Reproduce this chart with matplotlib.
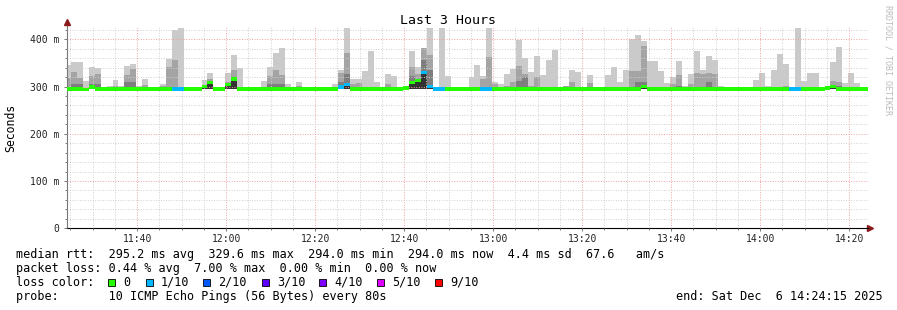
import numpy as np
import matplotlib
matplotlib.use('Agg')
import matplotlib.pyplot as plt
from matplotlib.ticker import MultipleLocator, FuncFormatter
from matplotlib.patches import Rectangle

plt.rcParams['font.family'] = 'DejaVu Sans Mono'

# rrd step is 80 s, first bin starts 11:23:49 (minutes after 11:00)
step_min = 80 / 60
first_bin = 23 + 49 / 60
t_start, t_end = 24.25, 204.25   # 11:24:15 .. 14:24:15

# smoke: highest three pings of 10 per bin (ms)
ping10 = [345, 351, 352, 311, 341, 340, 295, 302, 313, 302,
          343, 347, 302, 315, 295, 295, 305, 358, 419, 423,
          295, 295, 295, 313, 328, 295, 295, 328, 366, 340,
          295, 295, 295, 311, 341, 371, 381, 305, 298, 309,
          295, 295, 295, 295, 295, 306, 336, 423, 317, 315,
          332, 375, 309, 300, 326, 322, 295, 300, 375, 341,
          381, 423, 295, 423, 322, 295, 295, 295, 320, 345,
          322, 423, 309, 305, 326, 338, 398, 360, 330, 364,
          324, 356, 377, 300, 302, 334, 330, 300, 324, 295,
          298, 324, 341, 309, 336, 400, 410, 396, 353, 353,
          332, 307, 320, 353, 302, 326, 375, 336, 364, 356,
          302, 295, 295, 295, 295, 295, 313, 328, 302, 336,
          368, 347, 295, 423, 311, 328, 328, 295, 295, 351,
          383, 307, 328, 307, 295, 295]
ping9 = [318, 330, 318, 295, 322, 326, 295, 295, 302, 295,
         324, 338, 295, 303, 295, 295, 302, 341, 356, 300,
         295, 295, 295, 304, 317, 295, 295, 310, 336, 295,
         295, 295, 295, 295, 322, 334, 324, 298, 295, 302,
         295, 295, 295, 295, 295, 295, 329, 371, 306, 307,
         295, 295, 300, 295, 306, 295, 295, 295, 341, 326,
         381, 366, 295, 295, 295, 295, 295, 295, 295, 295,
         315, 362, 305, 295, 302, 309, 343, 326, 302, 320,
         295, 295, 295, 298, 302, 309, 295, 300, 307, 295,
         295, 295, 295, 295, 300, 332, 333, 385, 295, 295,
         295, 295, 306, 324, 295, 305, 328, 326, 328, 326,
         295, 295, 295, 295, 295, 295, 295, 295, 295, 295,
         295, 302, 295, 295, 295, 295, 295, 295, 295, 311,
         309, 295, 295, 295, 295, 295]
ping8 = [300, 306, 305, 295, 306, 306, 295, 295, 295, 295,
         310, 310, 295, 295, 295, 295, 295, 295, 295, 295,
         295, 295, 295, 295, 295, 295, 295, 302, 317, 295,
         295, 295, 295, 295, 306, 306, 306, 295, 295, 295,
         295, 295, 295, 295, 295, 295, 310, 326, 295, 295,
         295, 295, 295, 295, 295, 295, 295, 295, 322, 295,
         356, 334, 295, 295, 295, 295, 295, 295, 295, 295,
         295, 295, 295, 295, 295, 295, 311, 320, 295, 295,
         295, 295, 295, 295, 295, 295, 295, 295, 295, 295,
         295, 295, 295, 295, 295, 295, 310, 310, 295, 295,
         295, 295, 300, 302, 295, 295, 295, 300, 309, 295,
         295, 295, 295, 295, 295, 295, 295, 295, 295, 295,
         295, 295, 295, 295, 295, 295, 295, 295, 295, 295,
         302, 295, 295, 295, 295, 295]
median = [295, 295, 295, 294, 299, 295, 295, 295, 295, 295,
          295, 295, 295, 295, 295, 295, 295, 295, 295, 295,
          295, 295, 295, 300, 309, 295, 295, 305, 316, 295,
          295, 295, 295, 295, 295, 295, 295, 295, 295, 295,
          295, 295, 295, 295, 295, 295, 299, 304, 295, 295,
          295, 295, 295, 295, 295, 295, 295, 297, 308, 313,
          330, 300, 295, 295, 295, 295, 295, 295, 295, 295,
          295, 295, 295, 295, 295, 295, 295, 295, 295, 295,
          295, 295, 295, 295, 295, 295, 295, 295, 295, 295,
          295, 295, 295, 295, 295, 295, 295, 300, 295, 295,
          295, 295, 295, 295, 295, 295, 295, 295, 295, 295,
          295, 295, 295, 295, 295, 295, 295, 295, 295, 295,
          295, 295, 295, 295, 295, 295, 295, 295, 297, 300,
          295, 295, 295, 295, 295, 295]
loss = [0, 0, 0, 0, 0, 0, 0, 0, 0, 0,
        0, 0, 0, 0, 0, 0, 0, 0, 1, 1,
        0, 0, 0, 0, 0, 0, 0, 0, 0, 0,
        0, 0, 0, 0, 0, 0, 0, 0, 0, 0,
        0, 0, 0, 0, 0, 0, 1, 1, 0, 0,
        0, 0, 0, 0, 0, 0, 0, 0, 0, 0,
        1, 1, 1, 1, 0, 0, 0, 0, 0, 0,
        1, 1, 0, 0, 0, 0, 0, 0, 0, 0,
        0, 0, 0, 0, 0, 0, 0, 0, 0, 0,
        0, 0, 0, 0, 0, 0, 0, 0, 0, 0,
        0, 0, 0, 0, 0, 0, 0, 0, 0, 0,
        0, 0, 0, 0, 0, 0, 0, 0, 0, 0,
        0, 0, 1, 1, 0, 0, 0, 0, 0, 0,
        0, 0, 0, 0, 0, 0]
ping_min = 294

loss_labels = ['0', '1/10', '2/10', '3/10', '4/10', '5/10', '9/10']
loss_colors = ['#26ff00', '#00b8ff', '#0059ff', '#5e00ff', '#7e00ff', '#dd00ff', '#ff0000']
smoke_colors = ['#cacaca', '#a4a4a4', '#7e7e7e', '#323232']

W, H = 897, 310
fig = plt.figure(figsize=(W / 100, H / 100), dpi=100)
ax = fig.add_axes([67 / W, 1 - 228.3 / H, 801 / W, 201.3 / H])

n = len(median)
edges = first_bin + step_min * np.arange(n + 1)
left = edges[:-1]

def stepfill(top, color):
    y = np.append(top, top[-1])
    ax.fill_between(edges, ping_min, y, step='post', color=color, linewidth=0, zorder=1)

stepfill(np.array(ping10), smoke_colors[0])
stepfill(np.array(ping9), smoke_colors[1])
stepfill(np.array(ping8), smoke_colors[2])
stepfill(np.array(median), smoke_colors[3])

# median band coloured by loss
sw = 3.5
cols = [loss_colors[l] for l in loss]
ax.bar(left, 2 * sw, bottom=np.array(median) - sw, width=step_min, align='edge',
       color=cols, linewidth=0, zorder=3)

ax.set_xlim(t_start, t_end)
ax.set_ylim(0, 426)

ax.xaxis.set_major_locator(MultipleLocator(20))
ax.xaxis.set_minor_locator(MultipleLocator(5))
ax.yaxis.set_major_locator(MultipleLocator(100))
ax.yaxis.set_minor_locator(MultipleLocator(20))
ax.xaxis.set_major_formatter(FuncFormatter(lambda v, p: '%02d:%02d' % (11 + int(v) // 60, int(v) % 60)))
ax.yaxis.set_major_formatter(FuncFormatter(lambda v, p: '0' if v == 0 else '%d m' % v))

ax.set_axisbelow(False)
ax.grid(which='minor', color='#cfcfcf', linestyle=(0, (1, 1.6)), linewidth=0.7)
ax.grid(which='major', color='#f2a0a0', linestyle=(0, (1, 1.6)), linewidth=0.7)
ax.tick_params(which='both', direction='out', colors='#777777', labelcolor='#222222',
               labelsize=7, width=0.7)
ax.tick_params(which='major', length=2.2)
ax.tick_params(which='minor', length=1.5)
ax.tick_params(axis='x', which='major', pad=1.8)
ax.tick_params(axis='y', which='major', pad=3.3)

for s in ['top', 'right']:
    ax.spines[s].set_visible(False)
ax.spines['left'].set_color('#777777')
ax.spines['bottom'].set_color('#000000')
ax.spines['left'].set_linewidth(0.8)
ax.spines['bottom'].set_linewidth(0.8)
ax.plot([0, 0], [1, 1.025], transform=ax.transAxes, color='#777777', lw=0.8, clip_on=False)
ax.plot([1, 1.003], [0, 0], transform=ax.transAxes, color='#000000', lw=0.8, clip_on=False)
ax.plot([0], [1.027], marker='^', ms=4, color='#8b1a1a', transform=ax.transAxes, clip_on=False)
ax.plot([1.003], [0], marker='>', ms=4, color='#8b1a1a', transform=ax.transAxes, clip_on=False)

fig.text(447.5 / W, 1 - 20 / H, 'Last 3 Hours', ha='center', va='center', fontsize=9.5)
fig.text(11 / W, 1 - 127.5 / H, 'Seconds', rotation=90, ha='center', va='center', fontsize=8.3)
fig.text(887.5 / W, 1 - 60 / H, 'RRDTOOL / TOBI OETIKER', rotation=270, ha='center',
         va='center', fontsize=6, color='#bbbbbb')

fs = 8.5
rows_y = [254.3, 268.3, 282.3, 296.3]
fig.text(16 / W, 1 - rows_y[0] / H,
         'median rtt:  295.2 ms avg  329.6 ms max  294.0 ms min  294.0 ms now  4.4 ms sd  67.6   am/s',
         va='center', fontsize=fs)
fig.text(16 / W, 1 - rows_y[1] / H,
         'packet loss: 0.44 % avg  7.00 % max  0.00 % min  0.00 % now', va='center', fontsize=fs)
fig.text(16 / W, 1 - rows_y[2] / H, 'loss color:', va='center', fontsize=fs)
fig.text(16 / W, 1 - rows_y[3] / H, 'probe:       10 ICMP Echo Pings (56 Bytes) every 80s',
         va='center', fontsize=fs)
fig.text(883 / W, 1 - rows_y[3] / H, 'end: Sat Dec  6 14:24:15 2025', ha='right',
         va='center', fontsize=fs)

box_x = [108.3, 145.7, 203.3, 261.7, 319.3, 377.3, 435.3]
for bx, lab, c in zip(box_x, loss_labels, loss_colors):
    fig.add_artist(Rectangle((bx / W, 1 - (rows_y[2] + 3.5) / H), 7 / W, 7 / H,
                             transform=fig.transFigure, facecolor=c, edgecolor='#000000',
                             linewidth=0.6))
    fig.text((bx + 15) / W, 1 - rows_y[2] / H, lab, va='center', fontsize=fs)

fig.savefig('out.png', dpi=100, facecolor='white')
